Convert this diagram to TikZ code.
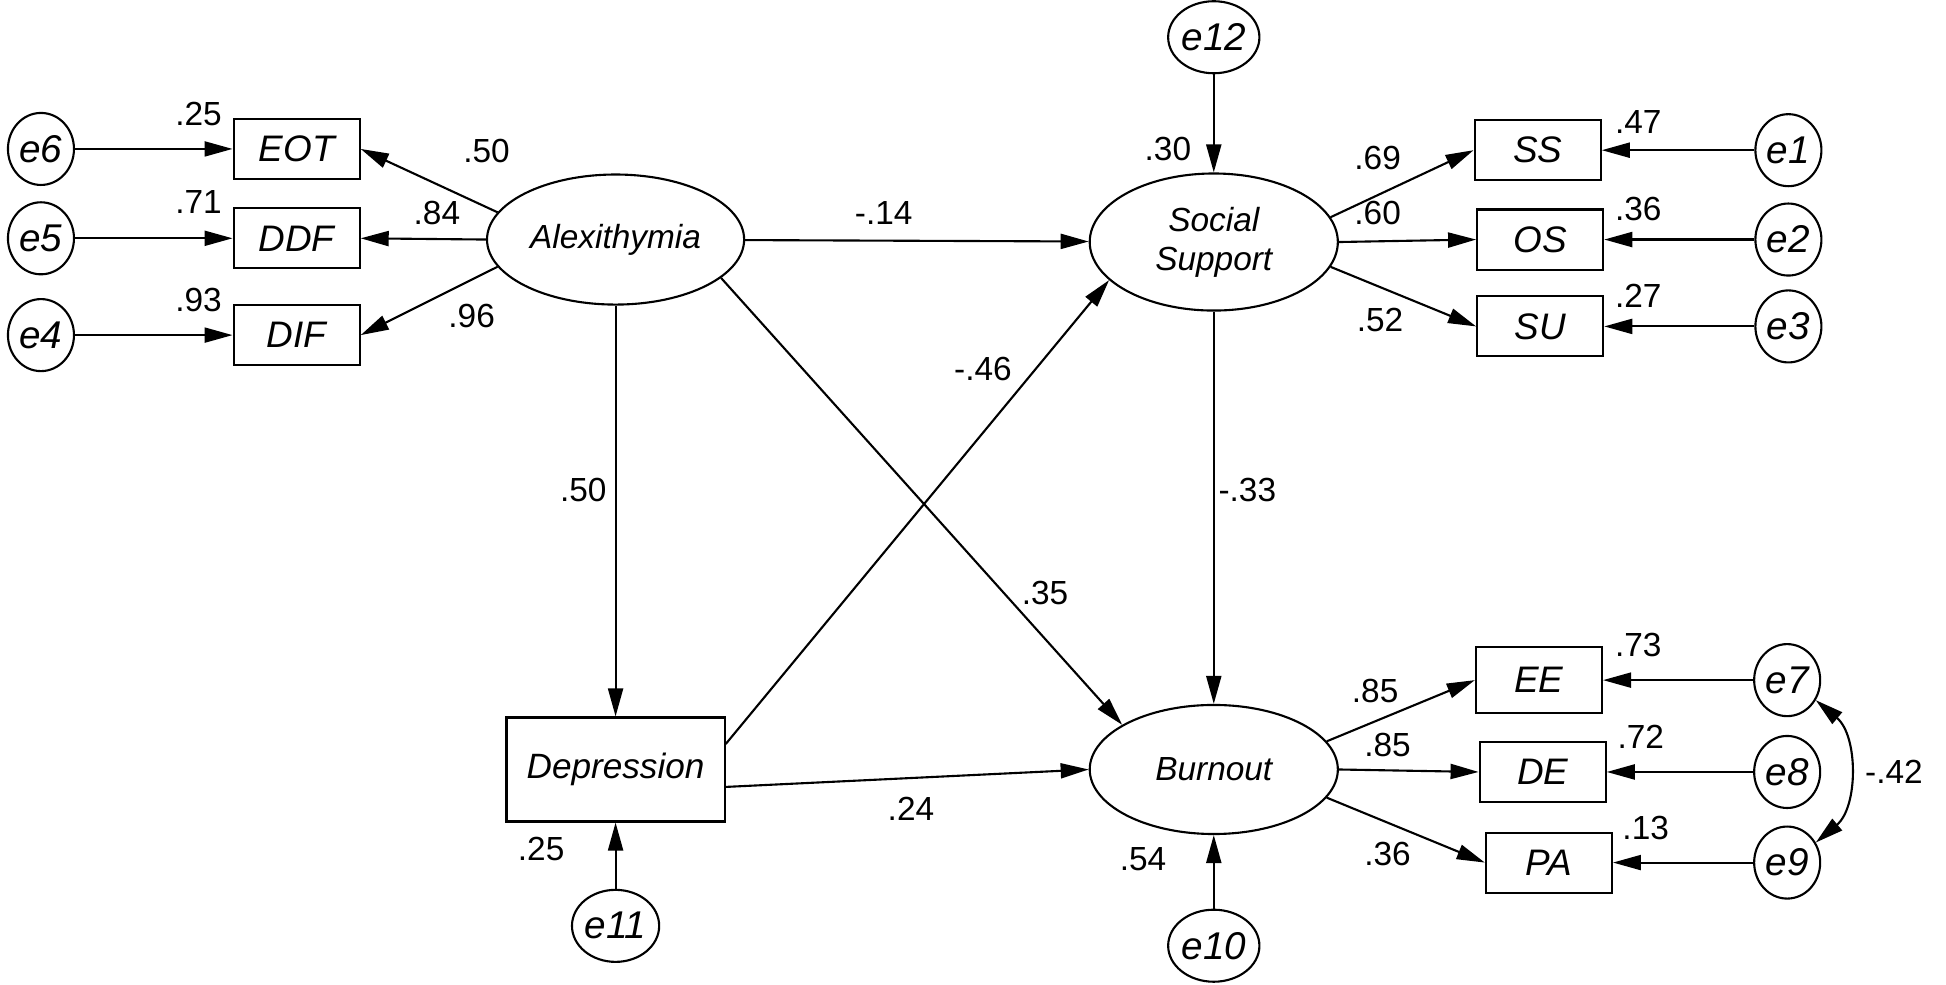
\documentclass[tikz,border=0pt]{standalone}
\usepackage{fontspec}
\setmainfont{Liberation Sans}
\usetikzlibrary{arrows.meta,shapes.geometric}

\begin{document}
\begin{tikzpicture}[x=0.01241cm,y=-0.01241cm,line width=0.6pt,
		regr/.style={-{Triangle[length=2.8mm,width=1.5mm]}},
		covar/.style={{Triangle[length=2.8mm,width=1.5mm]}-{Triangle[length=2.8mm,width=1.5mm]}},
		obs/.style={draw,minimum width=1.26cm,minimum height=0.6cm,inner sep=0pt,font=\fontsize{10.5}{12}\selectfont\itshape},
		lat/.style={draw,ellipse,minimum width=2.5cm,minimum height=1.32cm,inner sep=0pt,align=center,font=\fontsize{9.5}{11}\selectfont\itshape},
		err/.style={draw,ellipse,minimum width=0.66cm,minimum height=0.72cm,inner sep=0pt,font=\fontsize{11}{12}\selectfont\itshape},
		coef/.style={inner sep=0pt,font=\fontsize{9.5}{11}\selectfont}]
		\useasboundingbox (0,0) rectangle (1568,793);
		
		\node[err] (e6) at (33,120) {e6};
		\node[err] (e5) at (33,192) {e5};
		\node[err] (e4) at (33,270) {e4};
		\node[obs] (eot) at (239,120) {EOT};
		\node[obs] (ddf) at (239,192) {DDF};
		\node[obs] (dif) at (239,270) {DIF};
		\node[lat,minimum width=2.57cm,minimum height=1.3cm] (alex) at (496,193) {Alexithymia};
		
		\node[lat,minimum width=2.48cm,minimum height=1.37cm] (ssup) at (978,195) {Social\\Support};
		\node[err] (e12) at (978,30) {e12};
		\node[obs] (ss) at (1239,121) {SS};
		\node[obs] (os) at (1241,193) {OS};
		\node[obs] (su) at (1241,263) {SU};
		\node[err] (e1) at (1441,121) {e1};
		\node[err] (e2) at (1441,193) {e2};
		\node[err] (e3) at (1441,263) {e3};
		
		\node[obs,minimum width=2.18cm,minimum height=1.04cm,font=\fontsize{10}{12}\selectfont\itshape] (dep) at (496,620) {Depression};
		\node[err] (e11) at (496,746) {e11};
		\node[lat,minimum width=2.48cm,minimum height=1.29cm] (burn) at (978,620) {Burnout};
		\node[err] (e10) at (978,762) {e10};
		\node[obs,minimum height=0.66cm] (ee) at (1240,548) {EE};
		\node[obs] (de) at (1243,622) {DE};
		\node[obs] (pa) at (1248,695) {PA};
		\node[err] (e7) at (1440,548) {e7};
		\node[err] (e8) at (1440,622) {e8};
		\node[err] (e9) at (1440,695) {e9};
		
		\draw[regr] (e6) -- (eot);
		\draw[regr] (e5) -- (ddf);
		\draw[regr] (e4) -- (dif);
		\draw[regr] (alex.167) -- (eot.east);
		\draw[regr] (alex.west) -- (ddf.east);
		\draw[regr] (alex.193) -- (dif.east);
		\draw[regr] (alex) -- (ssup);
		\draw[regr] (alex) -- (dep);
		\draw[regr] (alex.-20) -- (burn.154);
		\draw[regr] (dep.13) -- (ssup.200);
		\draw[regr] (dep.-9) -- (burn.west);
		\draw[regr] (ssup) -- (burn);
		\draw[regr] (e12) -- (ssup);
		\draw[regr] (e11) -- (dep);
		\draw[regr] (e10) -- (burn);
		\draw[regr] (ssup.12) -- (ss.west);
		\draw[regr] (ssup.east) -- (os.west);
		\draw[regr] (ssup.-12) -- (su.west);
		\draw[regr] (e1) -- (ss);
		\draw[regr] (e2) -- (os);
		\draw[regr] (e3) -- (su);
		\draw[regr] (burn.14) -- (ee.west);
		\draw[regr] (burn.east) -- (de.west);
		\draw[regr] (burn.-14) -- (pa.west);
		\draw[regr] (e7) -- (ee);
		\draw[regr] (e8) -- (de);
		\draw[regr] (e9) -- (pa);
		\draw[covar] (e7.-35) to[bend left=50] (e9.35);
		
		\node[coef] (r6) at (160,92) {.25};
		\node[coef] (r5) at (160,163) {.71};
		\node[coef] (r4) at (160,242) {.93};
		\node[coef] (l6) at (392,122) {.50};
		\node[coef] (l5) at (352,172) {.84};
		\node[coef] (l4) at (380,255) {.96};
		\node[coef] (bas) at (712,172) {-.14};
		\node[coef] (rss) at (941,120) {.30};
		\node[coef] (l1) at (1110,127) {.69};
		\node[coef] (l2) at (1110,172) {.60};
		\node[coef] (l3) at (1112,258) {.52};
		\node[coef] (r1) at (1320,98) {.47};
		\node[coef] (r2) at (1320,168) {.36};
		\node[coef] (r3) at (1320,238) {.27};
		\node[coef] (bad) at (470,395) {.50};
		\node[coef] (bds) at (792,297) {-.46};
		\node[coef] (bsb) at (1005,395) {-.33};
		\node[coef] (bab) at (842,478) {.35};
		\node[coef] (bdb) at (734,652) {.24};
		\node[coef] (rdep) at (436,684) {.25};
		\node[coef] (rburn) at (921,692) {.54};
		\node[coef] (l7) at (1108,557) {.85};
		\node[coef] (l8) at (1118,600) {.85};
		\node[coef] (l9) at (1118,688) {.36};
		\node[coef] (r7) at (1320,520) {.73};
		\node[coef] (r8) at (1322,594) {.72};
		\node[coef] (r9) at (1326,667) {.13};
		\node[coef] (c79) at (1526,622) {-.42};
\end{tikzpicture}
\end{document}
